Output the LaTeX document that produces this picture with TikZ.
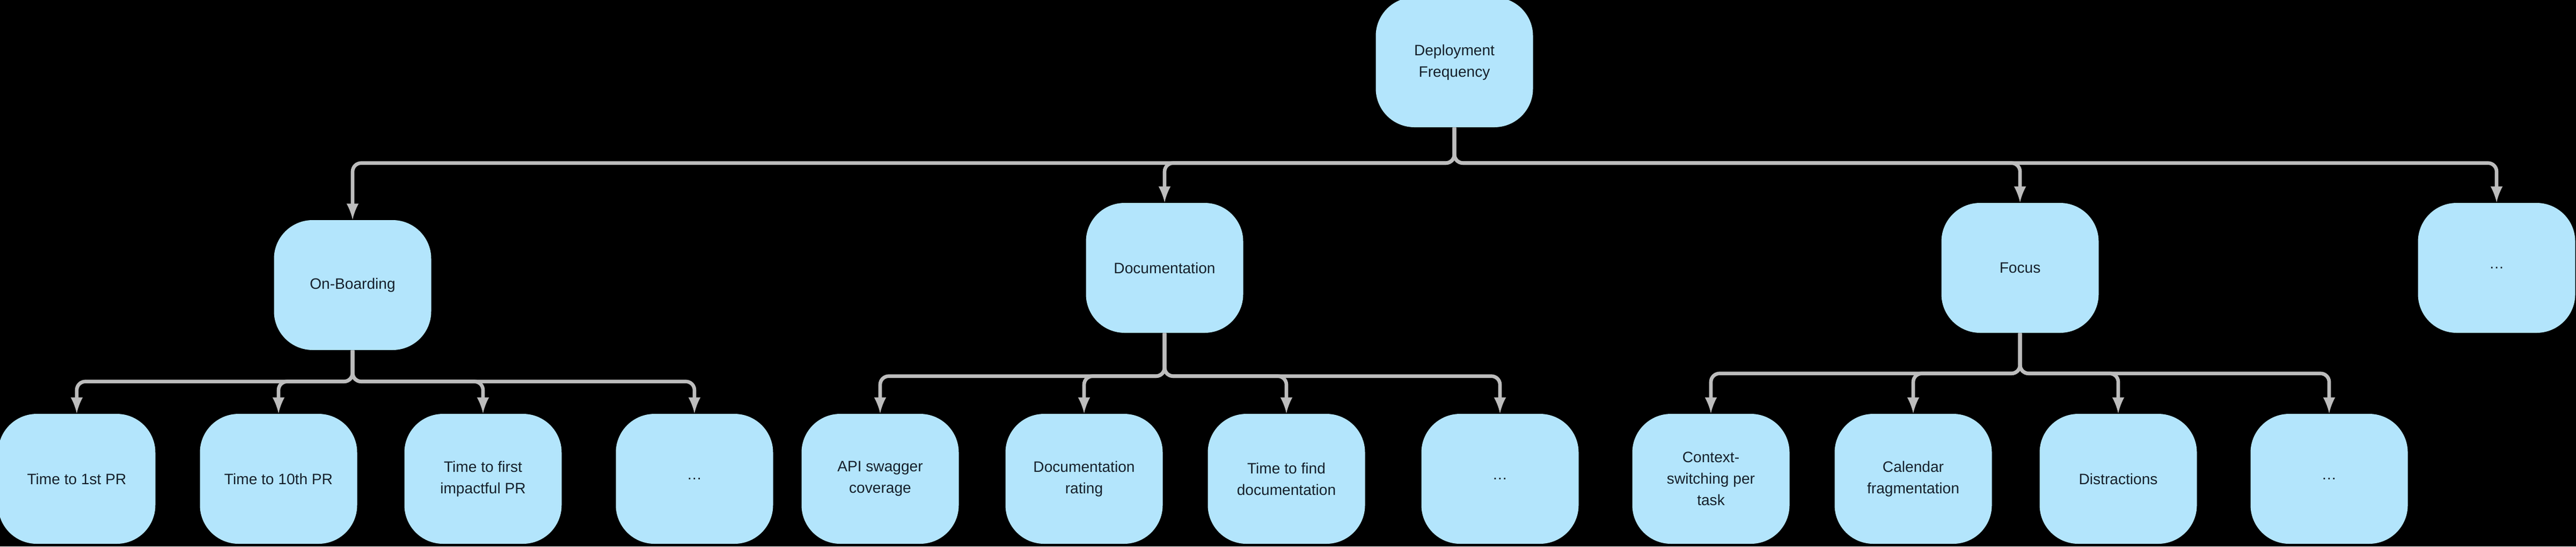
\documentclass[tikz,border=0pt]{standalone}
\usepackage{fontspec}
\setmainfont{Liberation Sans}
\definecolor{nodeblue}{HTML}{B3E5FC}
\definecolor{linkgray}{HTML}{BDBDBD}
\definecolor{textnavy}{HTML}{16202C}
\tikzset{
  metric/.style={fill=nodeblue, rounded corners=0.72cm, minimum width=2.93cm, minimum height=2.42cm,
    inner sep=0pt, align=center, text=textnavy, font=\fontsize{8}{11.4}\selectfont},
  link/.style={draw=linkgray, line width=1.9pt, rounded corners=0.16cm, -latex},
}
\begin{document}
\begin{tikzpicture}
\fill[black] (0,0) rectangle (48,-10.18);
\useasboundingbox (0,0) rectangle (48,-10.18);
% edit here for the top metric
\node[metric] (df) at (27.10,-1.16) {Deployment\\Frequency};
% edit here for the second row
\node[metric] (onb) at (6.57,-5.31) {On-Boarding};
\node[metric] (doc) at (21.70,-4.99) {Documentation};
\node[metric] (foc) at (37.64,-4.99) {Focus};
\node[metric] (more) at (46.52,-4.99) {\dots};
% edit here for the third row
\foreach \x/\n/\t in {1.43/ob1/{Time to 1st PR}, 5.19/ob2/{Time to 10th PR},
    9.00/ob3/{Time to first\\impactful PR}, 12.94/ob4/{\dots},
    16.40/dc1/{API swagger\\coverage}, 20.20/dc2/{Documentation\\rating},
    23.97/dc3/{Time to find\\documentation}, 27.95/dc4/{\dots},
    31.88/fc1/{Context-\\switching per\\task}, 35.65/fc2/{Calendar\\fragmentation},
    39.47/fc3/{Distractions}, 43.40/fc4/{\dots}}
\node[metric] (\n) at (\x,-8.92) {\t};
% edit here for the links
\foreach \c in {onb,doc,foc,more}
\draw[link] (df.south) -- ++(0,-0.66) -| (\c.north);
\foreach \c in {ob1,ob2,ob3,ob4}
\draw[link] (onb.south) -- ++(0,-0.58) -| (\c.north);
\foreach \c in {dc1,dc2,dc3,dc4}
\draw[link] (doc.south) -- ++(0,-0.80) -| (\c.north);
\foreach \c in {fc1,fc2,fc3,fc4}
\draw[link] (foc.south) -- ++(0,-0.75) -| (\c.north);
\end{tikzpicture}
\end{document}
